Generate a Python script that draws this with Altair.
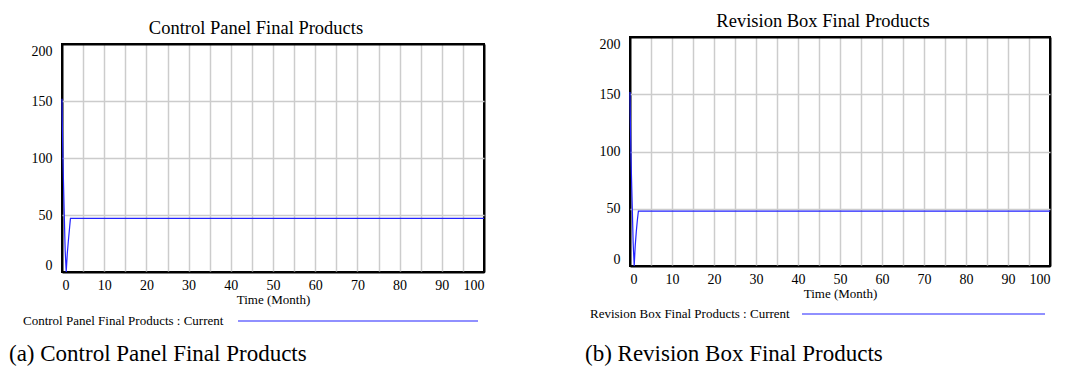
import altair as alt
import pandas as pd

# ---- data ----
time_a = [0, 0.0625, 0.25, 0.5, 0.75, 1.0, 1.25, 1.5, 1.75, 2.0, 100]
value_a = [152, 132, 95, 56, 19, 0, 16, 27, 37, 47, 47]
time_b = [0, 0.0625, 0.25, 0.5, 0.75, 1.0, 1.25, 1.5, 1.75, 2.0, 100]
value_b = [152, 132, 93, 57, 20, 0, 18, 30, 40, 48, 48]

x_ticks = list(range(0, 101, 5))
y_ticks = [0, 50, 100, 150, 200]

titles = ["Control Panel Final Products", "Revision Box Final Products"]
legend_labels = ["Control Panel Final Products : Current",
                 "Revision Box Final Products : Current"]
captions = ["(a) Control Panel Final Products", "(b) Revision Box Final Products"]
x_title = "Time (Month)"

FONT = "Liberation Serif"
LINE_COLOR = "#2222ff"


def edge_cond(lo, hi, inner, edge):
    return {"condition": {"test": f"datum.value == {lo} || datum.value == {hi}",
                          "value": edge},
            "value": inner}


def text_layer(label, x, y, size, align="left", baseline="middle"):
    return alt.Chart(pd.DataFrame({"label": [label]})).mark_text(
        align=align, baseline=baseline, font=FONT, fontSize=size, color="black"
    ).encode(x=alt.value(x), y=alt.value(y), text="label:N")


def panel(times, values, title, legend, caption, width, height,
          leg_y, leg_x, rule_x1, rule_x2, cap_x, cap_y):
    df = pd.DataFrame({"Time": times, "Value": values})
    line = alt.Chart(df).mark_line(color=LINE_COLOR, strokeWidth=1.2).encode(
        x=alt.X("Time:Q",
                scale=alt.Scale(domain=[0, 100], nice=False),
                axis=alt.Axis(values=x_ticks,
                              labelExpr="datum.value % 10 == 0 ? datum.label : ''",
                              title=x_title,
                              gridColor=edge_cond(0, 100, "#cccccc", "black"),
                              gridWidth=edge_cond(0, 100, 1.5, 2))),
        y=alt.Y("Value:Q",
                scale=alt.Scale(domain=[0, 200], nice=False),
                axis=alt.Axis(values=y_ticks, title=None, labelFlush=True,
                              gridColor=edge_cond(0, 200, "#cccccc", "black"),
                              gridWidth=edge_cond(0, 200, 1.5, 2))),
    )
    title_mark = text_layer(title, width / 2 - 17, -10, 18.5,
                            align="center", baseline="alphabetic")
    leg_text = text_layer(legend, leg_x, leg_y, 13)
    leg_rule = alt.Chart(pd.DataFrame({"label": [legend]})).mark_rule(
        color=LINE_COLOR, strokeWidth=1.2
    ).encode(x=alt.value(rule_x1), x2=alt.value(rule_x2), y=alt.value(leg_y))
    cap = text_layer(caption, cap_x, cap_y, 23)
    return alt.layer(line, title_mark, leg_text, leg_rule, cap).properties(
        width=width, height=height)


def spacer(h):
    return alt.Chart(pd.DataFrame({"a": [0]})).mark_rect(opacity=0).encode(
        x=alt.value(0), x2=alt.value(1), y=alt.value(0), y2=alt.value(h)
    ).properties(width=1, height=h, view=alt.ViewBackground(stroke="transparent"))


left = panel(time_a, value_a, titles[0], legend_labels[0], captions[0],
             422, 228, 277, -39, 176, 416, -53, 310)
right = panel(time_b, value_b, titles[1], legend_labels[1], captions[1],
              420, 229, 277, -40, 172, 415, -45, 317)

left_col = alt.vconcat(spacer(8), left, spacing=0)
right_col = alt.vconcat(spacer(1), right, spacing=0)

chart = alt.concat(left_col, right_col, columns=2, spacing=96).properties(
    padding={"left": 0, "top": 0, "right": 0, "bottom": 0}
).configure_view(
    stroke="black", strokeWidth=2
).configure_axis(
    labelFont=FONT, labelFontSize=14, labelColor="black",
    titleFont=FONT, titleFontSize=13, titleFontWeight="normal", titleColor="black",
    ticks=False, domain=False, labelPadding=6, titlePadding=1, gridOpacity=1,
).configure_axisY(labelPadding=10)

chart.save("out.html", embed_options={"renderer": "svg", "actions": False})
